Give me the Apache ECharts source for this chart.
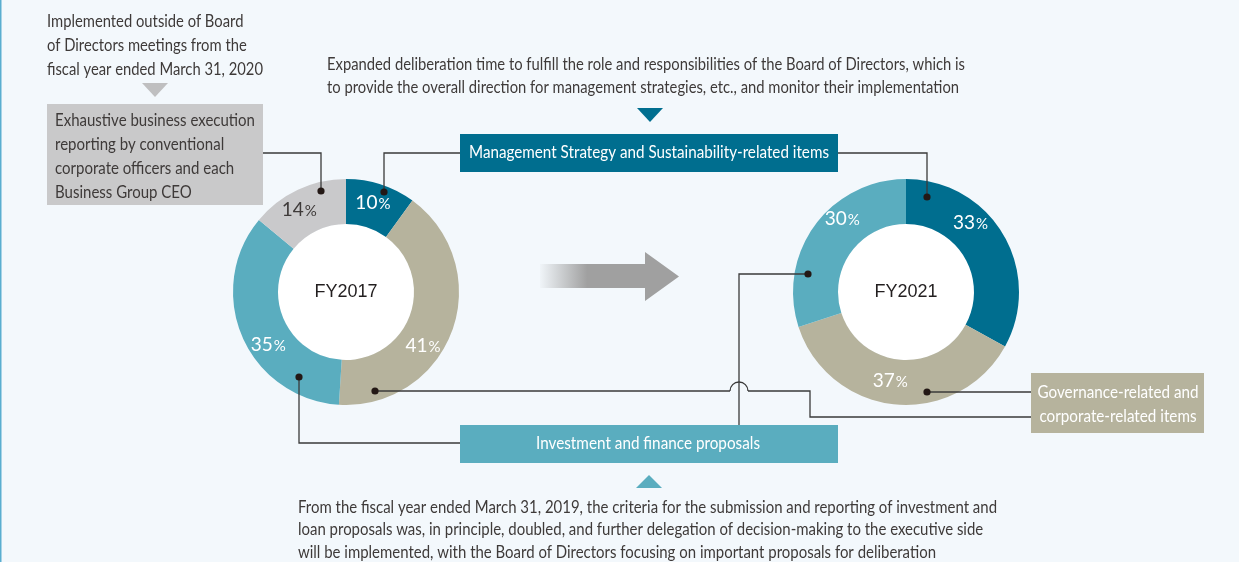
<!DOCTYPE html>
<html>
<head>
<meta charset="utf-8">
<script src="https://cdn.jsdelivr.net/npm/echarts@6/dist/echarts.min.js"></script>
<style>
  html, body { margin: 0; padding: 0; background: #f3f8fc; }
  #chart { width: 1239px; height: 562px; }
</style>
</head>
<body>
<div id="chart"></div>
<script>
// Share of Board of Directors deliberation time by agenda type
const years = ['FY2017', 'FY2021'];
const categories = [
  'Management Strategy and Sustainability-related items',
  'Governance-related and corporate-related items',
  'Investment and finance proposals',
  'Exhaustive business execution reporting'
];
const fy2017Values = [10, 41, 35, 14];
const fy2021Values = [33, 37, 30];

const noteTopLeft = ['Implemented outside of Board', 'of Directors meetings from the', 'fiscal year ended March 31, 2020'];
const noteReporting = ['Exhaustive business execution', 'reporting by conventional', 'corporate officers and each', 'Business Group CEO'];
const noteStrategy = [
  'Expanded deliberation time to fulfill the role and responsibilities of the Board of Directors, which is',
  'to provide the overall direction for management strategies, etc., and monitor their implementation'
];
const noteInvestment = [
  'From the fiscal year ended March 31, 2019, the criteria for the submission and reporting of investment and',
  'loan proposals was, in principle, doubled, and further delegation of decision-making to the executive side',
  'will be implemented, with the Board of Directors focusing on important proposals for deliberation'
];
const governanceLabel = ['Governance-related and', 'corporate-related items'];

// palette
const COL = ['#006e8f', '#b6b39d', '#5aadbf', '#c9c9cb'];
const TXT = '#3e3a39';
const LINE = '#3a3a3a';
const DOT = '#231815';

// layout
const C1 = [346, 292], C2 = [906, 292];
const R_IN = 68, R_OUT = 113;
const BODY_FONT = 'Lato, "Noto Sans", sans-serif';

// nudges for the in-ring percentage labels
const labelShift = [
  [[-2, 0], [-11, 22], [8, 16], [-7, 2]],
  [[-16, -22], [-7, -4], [12, -18]]
];

const measureCtx = document.createElement('canvas').getContext('2d');
function textWidth(str, size) {
  measureCtx.font = size + 'px ' + BODY_FONT;
  return measureCtx.measureText(str).width;
}

// condensed text block: scale horizontally so the reference line spans `width`
function textBlock(lines, x, y0, lh, refIdx, width, opts) {
  opts = opts || {};
  const size = opts.size || 17;
  const sx = width / textWidth(lines[refIdx], size);
  return lines.map((s, i) => ({
    type: 'text',
    x: x, y: y0 + i * lh,
    scaleX: sx,
    z: 20,
    silent: true,
    style: {
      text: s, x: 0, y: 0,
      font: size + 'px ' + BODY_FONT,
      fill: opts.color || TXT,
      align: opts.align || 'left',
      verticalAlign: 'middle'
    }
  }));
}

function poly(points) {
  return { type: 'polyline', z: 20, silent: true, shape: { points: points }, style: { stroke: LINE, lineWidth: 1.3, fill: null } };
}
function dot(c, dx, dy) {
  return { type: 'circle', z: 21, silent: true, shape: { cx: c[0] + dx, cy: c[1] + dy, r: 3.6 }, style: { fill: DOT } };
}
function box(x, y, w, h, color) {
  return { type: 'rect', z: 15, silent: true, shape: { x: x, y: y, width: w, height: h }, style: { fill: color } };
}
function tri(points, color) {
  return { type: 'polygon', z: 15, silent: true, shape: { points: points }, style: { fill: color } };
}

const labelRich = {
  nw: { fontSize: 19, fontFamily: BODY_FONT, color: '#ffffff' },
  pw: { fontSize: 15, fontFamily: BODY_FONT, color: '#ffffff', padding: [3, 0, 0, 1] },
  nd: { fontSize: 19, fontFamily: BODY_FONT, color: TXT },
  pd: { fontSize: 15, fontFamily: BODY_FONT, color: TXT, padding: [3, 0, 0, 1] }
};

function ringSeries(idx, values, center) {
  return {
    type: 'pie',
    center: center,
    radius: [R_IN, R_OUT],
    startAngle: 90,
    clockwise: true,
    silent: true,
    animation: false,
    avoidLabelOverlap: false,
    z: 3,
    labelLine: { show: false },
    emphasis: { disabled: true },
    label: {
      show: true,
      position: 'inside',
      formatter: p => {
        const k = p.dataIndex === 3 ? 'd' : 'w';
        return '{n' + k + '|' + p.value + '}{p' + k + '|%}';
      },
      rich: labelRich
    },
    labelLayout: p => {
      const s = labelShift[idx][p.dataIndex];
      return { dx: s[0], dy: s[1] };
    },
    data: values.map((v, i) => ({
      value: v,
      name: categories[i],
      itemStyle: { color: COL[i], borderWidth: 0 }
    }))
  };
}

function centerSeries(year, center) {
  return {
    type: 'pie',
    center: center,
    radius: [0, R_IN],
    silent: true,
    animation: false,
    z: 2,
    labelLine: { show: false },
    emphasis: { disabled: true },
    label: {
      show: true, position: 'center',
      fontSize: 18, fontFamily: '"Liberation Sans", Arial, sans-serif', color: '#231f20'
    },
    data: [{ value: 1, name: year, itemStyle: { color: '#ffffff' } }]
  };
}

const graphics = [
  // left edge rule
  box(0, 0, 1.5, 562, '#5aaed0'),

  // transition arrow
  {
    type: 'polygon', silent: true, z: 15,
    shape: { points: [[540, 264], [645, 264], [645, 252], [679, 276.5], [645, 301], [645, 288], [540, 288]] },
    style: {
      fill: new echarts.graphic.LinearGradient(0, 0, 1, 0, [
        { offset: 0, color: 'rgba(160,160,160,0.04)' },
        { offset: 0.18, color: 'rgba(160,160,160,0.55)' },
        { offset: 0.34, color: 'rgba(160,160,160,1)' },
        { offset: 1, color: 'rgba(160,160,160,1)' }
      ])
    }
  },

  // boxes and pointers
  tri([[142, 83], [168, 83], [155, 97]], '#bfbfc0'),
  box(47, 104, 216, 101, '#c9c9ca'),
  tri([[637, 108], [663, 108], [650, 122]], COL[0]),
  box(460, 134, 378, 38, COL[0]),
  box(460, 425, 378, 38, COL[2]),
  tri([[636, 488], [662, 488], [649, 475]], COL[2]),
  box(1031, 373, 173, 60, COL[1]),

  // connectors
  poly([[263, 153], [C1[0] - 25, 153], [C1[0] - 25, C1[1] - 101]]),
  poly([[460, 153], [C1[0] + 38, 153], [C1[0] + 38, C1[1] - 100]]),
  poly([[838, 153], [C2[0] + 21, 153], [C2[0] + 21, C2[1] - 95]]),
  poly([[460, 443], [C1[0] - 47, 443], [C1[0] - 47, C1[1] + 85]]),
  poly([[739, 425], [739, C2[1] - 18], [C2[0] - 98, C2[1] - 18]]),
  poly([[C1[0] + 29, C1[1] + 99], [730, C1[1] + 99]]),
  { type: 'arc', z: 20, silent: true, shape: { cx: 739, cy: C1[1] + 99, r: 9, startAngle: Math.PI, endAngle: Math.PI * 2, clockwise: true },
    style: { stroke: LINE, lineWidth: 1.3, fill: null } },
  poly([[748, C1[1] + 99], [810, C1[1] + 99], [810, 417], [1031, 417]]),
  poly([[C2[0] + 21, C2[1] + 100], [1031, C2[1] + 100]]),

  dot(C1, -25, -101),
  dot(C1, 38, -100),
  dot(C1, -47, 85),
  dot(C1, 29, 99),
  dot(C2, 21, -95),
  dot(C2, -98, -18),
  dot(C2, 21, 100)
]
  .concat(textBlock(noteTopLeft, 47, 21.5, 24, 2, 216))
  .concat(textBlock(noteReporting, 55, 121, 24, 0, 200))
  .concat(textBlock(noteStrategy, 327, 64.5, 23.5, 0, 638))
  .concat(textBlock(noteInvestment, 298, 507.5, 22.5, 0, 699))
  .concat(textBlock([categories[0]], 649, 153, 0, 0, 360, { color: '#ffffff', align: 'center' }))
  .concat(textBlock([categories[2]], 648, 444, 0, 0, 224, { color: '#ffffff', align: 'center' }))
  .concat(textBlock(governanceLabel, 1118, 393, 24, 0, 161, { color: '#ffffff', align: 'center' }));

const chart = echarts.init(document.getElementById('chart'), null, { renderer: 'canvas' });
chart.setOption({
  backgroundColor: '#f3f8fc',
  animation: false,
  series: [
    ringSeries(0, fy2017Values, C1),
    ringSeries(1, fy2021Values, C2),
    centerSeries(years[0], C1),
    centerSeries(years[1], C2)
  ],
  graphic: graphics
});
</script>
</body>
</html>
